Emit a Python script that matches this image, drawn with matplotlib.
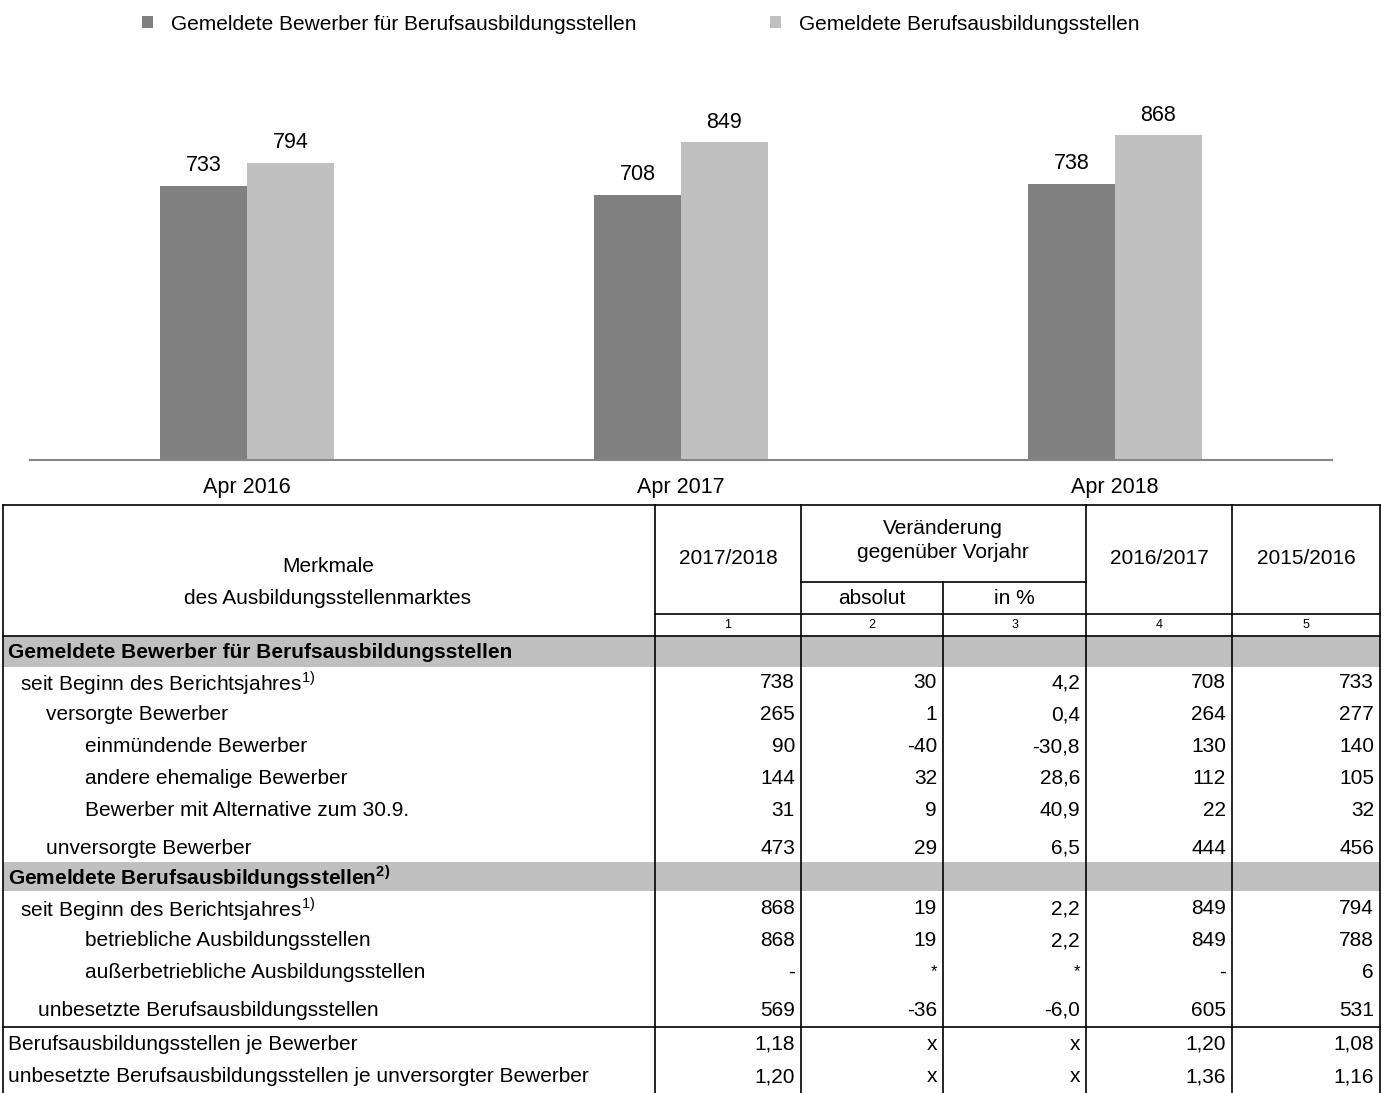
import numpy as np
import matplotlib
matplotlib.use("Agg")
import matplotlib.pyplot as plt
from matplotlib.patches import Rectangle

plt.rcParams["font.family"] = ["Liberation Sans", "DejaVu Sans"]
plt.rcParams["mathtext.fontset"] = "custom"
plt.rcParams["mathtext.rm"] = "Liberation Sans"
plt.rcParams["mathtext.bf"] = "Liberation Sans:bold"

# --- bar chart data
months = ["Apr 2016", "Apr 2017", "Apr 2018"]
bewerber = [733, 708, 738]
stellen = [794, 849, 868]
series_names = ["Gemeldete Bewerber für Berufsausbildungsstellen",
                "Gemeldete Berufsausbildungsstellen"]

# --- table data
row_labels = [
    "Gemeldete Bewerber für Berufsausbildungsstellen",
    "seit Beginn des Berichtsjahres$^{1)}$",
    "versorgte Bewerber",
    "einmündende Bewerber",
    "andere ehemalige Bewerber",
    "Bewerber mit Alternative zum 30.9.",
    "unversorgte Bewerber",
    "Gemeldete Berufsausbildungsstellen$^{\\mathbf{2)}}$",
    "seit Beginn des Berichtsjahres$^{1)}$",
    "betriebliche Ausbildungsstellen",
    "außerbetriebliche Ausbildungsstellen",
    "unbesetzte Berufsausbildungsstellen",
    "Berufsausbildungsstellen je Bewerber",
    "unbesetzte Berufsausbildungsstellen je unversorgter Bewerber",
]
col_2017_2018 = [None, "738", "265", "90", "144", "31", "473",
                 None, "868", "868", "-", "569", "1,18", "1,20"]
col_absolut = [None, "30", "1", "-40", "32", "9", "29",
               None, "19", "19", "*", "-36", "x", "x"]
col_prozent = [None, "4,2", "0,4", "-30,8", "28,6", "40,9", "6,5",
               None, "2,2", "2,2", "*", "-6,0", "x", "x"]
col_2016_2017 = [None, "708", "264", "130", "112", "22", "444",
                 None, "849", "849", "-", "605", "1,20", "1,36"]
col_2015_2016 = [None, "733", "277", "140", "105", "32", "456",
                 None, "794", "788", "6", "531", "1,08", "1,16"]
value_cols = [col_2017_2018, col_absolut, col_prozent, col_2016_2017, col_2015_2016]

# layout of the table (pixel coordinates of the figure)
W, H = 1384, 1093
indent = [8, 20, 46, 85, 85, 85, 46, 8, 20, 85, 85, 38, 8, 8]
row_y = [652, 683, 715, 747, 778, 810, 848, 877, 909, 941, 972, 1010, 1044, 1077]
section_rows = {0: (636, 667), 7: (862, 891)}
col_x = [3, 655, 801, 943, 1086, 1232, 1380]

fig = plt.figure(figsize=(W / 100, H / 100), dpi=100)

# ---------------- bar chart
ax = fig.add_axes([30 / W, 1 - 460 / H, 1302 / W, 374 / H])
x = np.arange(len(months))
w = 0.2
b1 = ax.bar(x - w / 2, bewerber, w, color="#808080", label=series_names[0])
b2 = ax.bar(x + w / 2, stellen, w, color="#c0c0c0", label=series_names[1])
ax.bar_label(b1, padding=7, fontsize=15.5)
ax.bar_label(b2, padding=7, fontsize=15.5)
ax.set_xlim(-0.5, 2.5)
ax.set_ylim(0, 1000)
ax.set_xticks(x, months)
ax.tick_params(axis="x", length=0, pad=12.5, labelsize=15.5)
ax.set_yticks([])
for s in ["top", "left", "right"]:
    ax.spines[s].set_visible(False)
ax.spines["bottom"].set_color("#868686")
ax.spines["bottom"].set_linewidth(1.5)

fig.legend(handles=[b1, b2], loc="center left",
           bbox_to_anchor=(142 / W, 1 - 24 / H), ncol=2, frameon=False,
           fontsize=15, handlelength=0.55, handleheight=0.55,
           handletextpad=0.85, columnspacing=6.4, borderpad=0, borderaxespad=0)

# ---------------- table
tx = fig.add_axes([0, 0, 1, 1])
tx.set_xlim(0, W)
tx.set_ylim(H, 0)
tx.axis("off")

for r, (y0, y1) in section_rows.items():
    tx.add_patch(Rectangle((col_x[0], y0), col_x[-1] - col_x[0], y1 - y0,
                           color="#c0c0c0", zorder=0, lw=0))

lk = dict(color="black", lw=1.2, zorder=2)
for cx in [col_x[0], col_x[1], col_x[2], col_x[4], col_x[5], col_x[6]]:
    tx.plot([cx, cx], [505, H], **lk)
tx.plot([col_x[3], col_x[3]], [582, H], **lk)
tx.plot([col_x[0], col_x[-1]], [505, 505], **lk)
tx.plot([col_x[2], col_x[4]], [582, 582], **lk)
tx.plot([col_x[1], col_x[-1]], [614, 614], **lk)
tx.plot([col_x[0], col_x[-1]], [636, 636], **lk)
tx.plot([col_x[0], col_x[-1]], [1027, 1027], **lk)

hf = 15
tx.text(328, 567, "Merkmale", ha="center", va="center", fontsize=hf)
tx.text(328, 599, "des Ausbildungsstellenmarktes", ha="center", va="center", fontsize=hf)
tx.text(728, 558, "2017/2018", ha="center", va="center", fontsize=hf)
tx.text(943, 528, "Veränderung", ha="center", va="center", fontsize=hf)
tx.text(943, 553, "gegenüber Vorjahr", ha="center", va="center", fontsize=hf)
tx.text(872, 599, "absolut", ha="center", va="center", fontsize=hf)
tx.text(1014, 599, "in %", ha="center", va="center", fontsize=hf)
tx.text(1159, 558, "2016/2017", ha="center", va="center", fontsize=hf)
tx.text(1306, 558, "2015/2016", ha="center", va="center", fontsize=hf)
for i in range(5):
    tx.text((col_x[i + 1] + col_x[i + 2]) / 2, 625, str(i + 1),
            ha="center", va="center", fontsize=9)

for i, label in enumerate(row_labels):
    bold = i in section_rows
    tx.text(indent[i], row_y[i], label, ha="left", va="center", fontsize=hf,
            fontweight="bold" if bold else "normal")
    for c, col in enumerate(value_cols):
        v = col[i]
        if v is None:
            continue
        tx.text(col_x[c + 2] - 6, row_y[i], v, ha="right", va="center",
                fontsize=hf - 3 if v == "*" else hf)

fig.savefig("out.png", dpi=100)
